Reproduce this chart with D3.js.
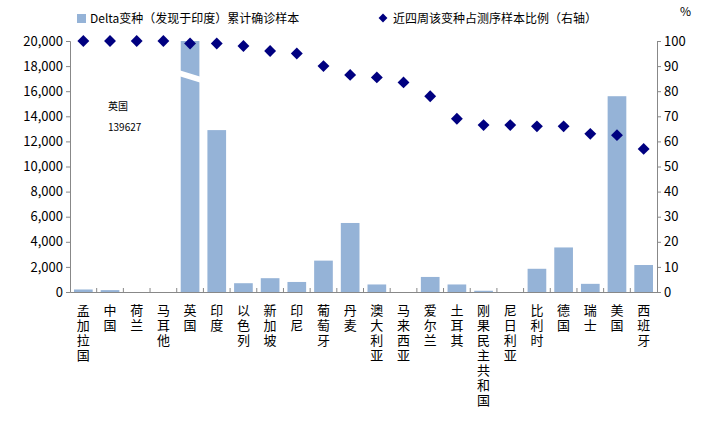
<!DOCTYPE html>
<html><head><meta charset="utf-8">
<script src="https://cdn.jsdelivr.net/npm/d3@7"></script>
<style>body{margin:0;background:#fff;font-family:"Noto Sans CJK SC",sans-serif;}</style>
</head><body><div id="chart"></div>
<script>
var countries = ["孟加拉国","中国","荷兰","马耳他","英国","印度","以色列","新加坡","印尼","葡萄牙","丹麦","澳大利亚","马来西亚","爱尔兰","土耳其","刚果民主共和国","尼日利亚","比利时","德国","瑞士","美国","西班牙"];
var cases = [200,150,0,0,139627,12900,700,1100,800,2500,5500,600,0,1200,600,100,0,1850,3550,650,15600,2150];
var share = [100,100,100,100,99,99,98,96,95,90,86.5,85.5,83.5,78,69,66.5,66.5,66,66,63,62.5,57];
var leftTicks = [0,2000,4000,6000,8000,10000,12000,14000,16000,18000,20000];
var rightTicks = [0,10,20,30,40,50,60,70,80,90,100];

var W = 702, H = 431, mLeft = 70, mRight = 657, mTop = 41, mBottom = 292;
var svg = d3.select("#chart").append("svg").attr("width", W).attr("height", H)
  .style("font-family", '"Noto Sans CJK SC",sans-serif');

var x = d3.scaleBand().domain(countries).range([mLeft, mRight]).paddingInner(0.3).paddingOuter(0.15);
var y = d3.scaleLinear().domain([0, 20000]).range([mBottom, mTop]);
var y2 = d3.scaleLinear().domain([0, 100]).range([mBottom, mTop]);

// bars
svg.selectAll("rect.bar").data(cases).enter().append("rect")
  .attr("x", function(d, i) { return x(countries[i]); })
  .attr("y", function(d) { return y(Math.min(d, 20000)); })
  .attr("width", x.bandwidth())
  .attr("height", function(d) { return mBottom - y(Math.min(d, 20000)); })
  .attr("fill", "#95b3d7");

// axis break on UK bar
var ux = x("英国"), bw = x.bandwidth();
svg.append("polygon")
  .attr("points", [[ux-2, mTop+29], [ux+bw+2, mTop+36], [ux+bw+2, mTop+42], [ux-2, mTop+35]].join(" "))
  .attr("fill", "#fff");
svg.append("text").attr("x", 108).attr("y", 110).attr("font-size", 10).text("英国");
svg.append("text").attr("x", 108).attr("y", 131).attr("font-size", 10).text("139627");

// axes
var ax = svg.append("g").attr("transform", "translate(" + mLeft + ",0)")
  .call(d3.axisLeft(y).tickValues(leftTicks).tickFormat(d3.format(",")).tickSize(4));
var ax2 = svg.append("g").attr("transform", "translate(" + mRight + ",0)")
  .call(d3.axisRight(y2).tickValues(rightTicks).tickSize(4));
var axb = svg.append("g").attr("transform", "translate(0," + mBottom + ")")
  .call(d3.axisBottom(x).tickSize(0).tickFormat(""));
[ax, ax2, axb].forEach(function(g) {
  g.selectAll("path,line").attr("stroke", "#888");
  g.selectAll("text").attr("font-size", 13).attr("fill", "#000")
    .attr("font-family", '"Noto Sans CJK SC",sans-serif');
});
// category separators
svg.selectAll("line.sep").data(countries.slice(1)).enter().append("line")
  .attr("x1", function(d) { return x(d) - x.step() * 0.15; })
  .attr("x2", function(d) { return x(d) - x.step() * 0.15; })
  .attr("y1", mBottom).attr("y2", mBottom - 4).attr("stroke", "#888");

// vertical labels
countries.forEach(function(c, i) {
  var t = svg.append("text").attr("text-anchor", "middle").attr("font-size", 13);
  c.split("").forEach(function(ch, j) {
    t.append("tspan").attr("x", x(c) + bw / 2).attr("y", 315 + j * 15).text(ch);
  });
});

// diamonds
svg.selectAll("path.pt").data(share).enter().append("path")
  .attr("d", d3.symbol().type(d3.symbolDiamond2).size(90))
  .attr("transform", function(d, i) { return "translate(" + (x(countries[i]) + bw / 2) + "," + y2(d) + ")"; })
  .attr("fill", "#000080");

// legend
svg.append("rect").attr("x", 77).attr("y", 14).attr("width", 9).attr("height", 9).attr("fill", "#95b3d7");
svg.append("text").attr("x", 90).attr("y", 23).attr("font-size", 12).text("Delta变种（发现于印度）累计确诊样本");
svg.append("path").attr("d", d3.symbol().type(d3.symbolDiamond2).size(50))
  .attr("transform", "translate(383,18)").attr("fill", "#000080");
svg.append("text").attr("x", 393).attr("y", 23).attr("font-size", 12).text("近四周该变种占测序样本比例（右轴）");
svg.append("text").attr("x", 680).attr("y", 16).attr("font-size", 12).text("%");
</script></body></html>
